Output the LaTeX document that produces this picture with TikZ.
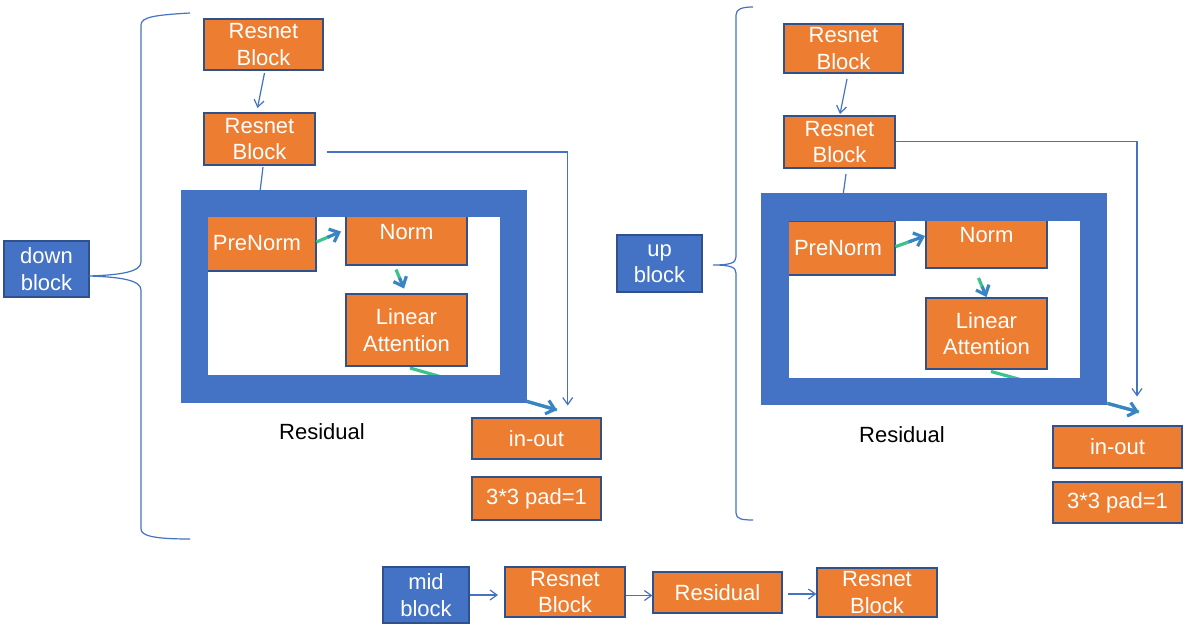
\documentclass[tikz,border=0pt]{standalone}
\usepackage{fontspec}
\setmainfont{Liberation Sans}
\usetikzlibrary{arrows.meta,calc}
\definecolor{orng}{HTML}{ED7D31}
\definecolor{bblue}{HTML}{4472C4}
\definecolor{bord}{HTML}{2F528F}
\definecolor{gstart}{HTML}{3CC38C}
\definecolor{gend}{HTML}{3A84C6}
\tikzset{
  box/.style={draw=bord, line width=1.2pt, text=white, align=center, inner sep=0pt,
              font=\fontsize{22}{26.5}\selectfont},
  obox/.style={box, fill=orng},
  bbox/.style={box, fill=bblue},
  conn/.style={draw=bblue, line width=1.2pt},
  connarrow/.style={conn, -{Straight Barb[length=7pt,width=10pt]}},
  framebox/.style={draw=bblue, line width=27.5pt, inner sep=0pt},
  gpart/.style={draw=gstart, line width=3.2pt},
  bpart/.style={draw=gend, line width=3.2pt, -{Straight Barb[length=8pt,width=14pt]}},
  lbl/.style={text=black, font=\fontsize{22}{26.5}\selectfont},
}
\begin{document}
\begin{tikzpicture}[x=1pt,y=-1pt]
\useasboundingbox[fill=white] (0,0) rectangle (1190,635);

% ---------------- LEFT: down block ----------------
\node[bbox, minimum width=85pt, minimum height=56pt] (down) at (46.5,269) {down\\block};
\coordinate (ltip) at (89,276);
\draw[conn] (190,13) .. controls (155,15) and (141,17) .. (141,25) -- (141,262)
  .. controls (141,272) and (120,275) .. (ltip)
  .. controls (120,277) and (141,280) .. (141,290) -- (141,529)
  .. controls (141,536) and (155,539) .. (190,539);

\node[obox, minimum width=119pt, minimum height=51pt] (lrb1) at (263.5,44.5) {Resnet\\Block};
\node[obox, minimum width=111pt, minimum height=52pt] (lrb2) at (259.5,139) {Resnet\\Block};
\coordinate (la1) at (264.5,73);
\coordinate (la2) at (257.5,108);
\draw[connarrow] (la1) -- (la2);
\coordinate (lb1) at (263,167);
\coordinate (lb2) at (259,200);
\draw[conn] (lb1) -- (lb2);

% thin skip line
\coordinate (lc1) at (327,152);
\coordinate (lc2) at (567.7,152);
\coordinate (lc3) at (567.7,405.5);
\draw[connarrow] (lc1) -- (lc2) -- (lc3);

% linear -> in-out (under frame)
\coordinate (ld1) at (410,368);
\coordinate (ld2) at (557,410);
\draw[gpart] (ld1) -- (ld2);

\node[obox, minimum width=118pt, minimum height=56pt] (lpre) at (257,243) {PreNorm};
\node[obox, minimum width=121pt, minimum height=66pt] (lnorm) at (406.5,232) {Norm};
\node[obox, minimum width=121pt, minimum height=72pt] (llin) at (406.5,330) {Linear\\Attention};

\node[framebox, minimum width=319pt, minimum height=185.5pt] (lframe) at (354,296.25) {};
\draw[bpart] ($(ld1)!0.79!(ld2)$) -- (ld2);

\coordinate (le1) at (316.5,242);
\coordinate (le2) at (341,231.5);
\draw[gpart] (le1) -- ($(le1)!0.55!(le2)$);
\draw[bpart] ($(le1)!0.45!(le2)$) -- (le2);
\coordinate (lf1) at (396,269.5);
\coordinate (lf2) at (404,288.5);
\draw[gpart] (lf1) -- ($(lf1)!0.55!(lf2)$);
\draw[bpart] ($(lf1)!0.45!(lf2)$) -- (lf2);

\node[lbl] (lres) at (322,432) {Residual};
\node[obox, minimum width=129pt, minimum height=41pt] (lio) at (536.5,438.5) {in-out};
\node[obox, minimum width=129pt, minimum height=43pt] (lpad) at (536.5,498.5) {3*3 pad=1};

% ---------------- RIGHT: up block ----------------
\node[bbox, minimum width=85pt, minimum height=57pt] (up) at (659.5,263.5) {up\\block};
\coordinate (rtip) at (713,265);
\draw[conn] (753,7) .. controls (742,7) and (736,9) .. (736,15) -- (736,257)
  .. controls (736,263) and (730,265) .. (rtip)
  .. controls (730,265) and (736,267) .. (736,273) -- (736,513)
  .. controls (736,519) and (742,520) .. (753,520);

\node[obox, minimum width=119pt, minimum height=49pt] (rrb1) at (843.5,48.5) {Resnet\\Block};
\node[obox, minimum width=111pt, minimum height=52pt] (rrb2) at (839.5,142) {Resnet\\Block};
\coordinate (ra1) at (847,79);
\coordinate (ra2) at (840,114);
\draw[connarrow] (ra1) -- (ra2);
\coordinate (rb1) at (846,174);
\coordinate (rb2) at (842,203);
\draw[conn] (rb1) -- (rb2);

\coordinate (rc1) at (896,141.7);
\coordinate (rc2) at (1137,141.7);
\coordinate (rc3) at (1137,396.5);
\draw[connarrow] (rc1) -- (rc2) -- (rc3);

\coordinate (rd1) at (991,371.5);
\coordinate (rd2) at (1139,412);
\draw[gpart] (rd1) -- (rd2);

\node[obox, minimum width=114pt, minimum height=54pt] (rpre) at (838,248) {PreNorm};
\node[obox, minimum width=121pt, minimum height=66pt] (rnorm) at (986.5,235) {Norm};
\node[obox, minimum width=121pt, minimum height=71pt] (rlin) at (986.5,333.5) {Linear\\Attention};

\node[framebox, minimum width=318.5pt, minimum height=184.5pt] (rframe) at (934,299.25) {};
\draw[bpart] ($(rd1)!0.79!(rd2)$) -- (rd2);

\coordinate (re1) at (895.5,246.7);
\coordinate (re2) at (925,236);
\draw[gpart] (re1) -- ($(re1)!0.55!(re2)$);
\draw[bpart] ($(re1)!0.45!(re2)$) -- (re2);
\coordinate (rf1) at (978.5,278);
\coordinate (rf2) at (986.5,297);
\draw[gpart] (rf1) -- ($(rf1)!0.55!(rf2)$);
\draw[bpart] ($(rf1)!0.45!(rf2)$) -- (rf2);

\node[lbl] (rres) at (902,435) {Residual};
\node[obox, minimum width=129pt, minimum height=42pt] (rio) at (1117.5,447) {in-out};
\node[obox, minimum width=129pt, minimum height=41pt] (rpad) at (1117.5,502.5) {3*3 pad=1};

% ---------------- BOTTOM: mid block ----------------
\node[bbox, minimum width=86pt, minimum height=56pt] (mid) at (426,595) {mid\\block};
\node[obox, minimum width=120pt, minimum height=50pt] (mrb1) at (565,592) {Resnet\\Block};
\node[obox, minimum width=129pt, minimum height=41pt] (mres) at (717.5,592.5) {Residual};
\node[obox, minimum width=120pt, minimum height=49pt] (mrb2) at (877,592.5) {Resnet\\Block};
\draw[connarrow] (mid.east |- 0,595) -- (498,595);
\draw[connarrow] (mrb1.east |- 0,595.5) -- (mres.west |- 0,595.5);
\coordinate (mg1) at (788,594);
\draw[connarrow] (mg1) -- (mrb2.west |- mg1);
\end{tikzpicture}
\end{document}
